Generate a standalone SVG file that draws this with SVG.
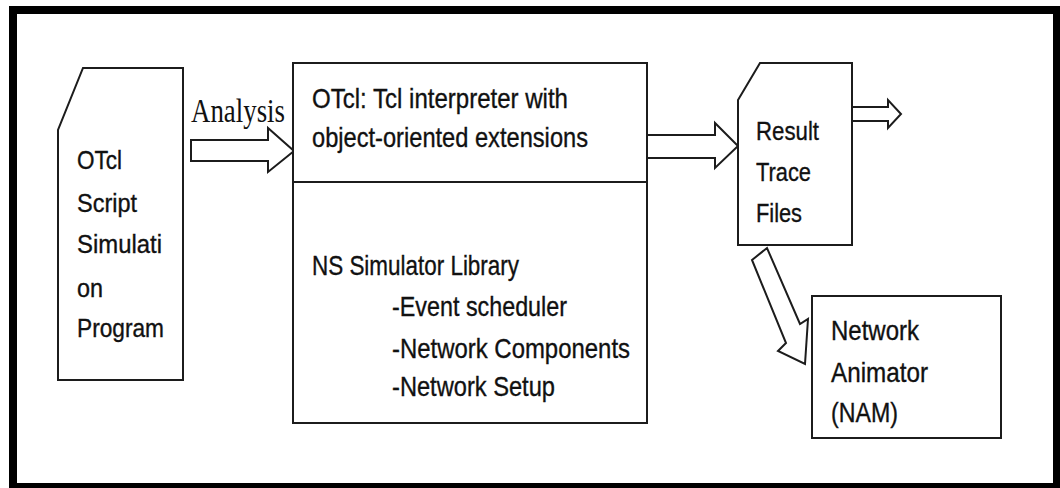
<svg xmlns="http://www.w3.org/2000/svg" width="1060" height="488" viewBox="0 0 1060 488">
  <style>
    .shape { fill: #ffffff; stroke: #1c1c1c; stroke-width: 2; stroke-linejoin: miter; }
    .arrow { fill: #ffffff; stroke: #1c1c1c; stroke-width: 2; stroke-linejoin: miter; }
    .lbl { font-family: "Liberation Sans", Arial, sans-serif; fill: #111111; stroke: #111111; stroke-width: 0.35; }
    .sm { font-size: 26px; }
    .md { font-size: 28px; }
    .serif { font-family: "Liberation Serif", "Times New Roman", serif; font-size: 33px; fill: #111111; }
  </style>

  <!-- page background and heavy frame -->
  <rect x="0" y="0" width="1060" height="488" fill="#ffffff"/>
  <rect id="frame" x="13" y="10" width="1044" height="477" fill="none" stroke="#000000" stroke-width="8"/>

  <!-- connectors: hollow block arrows -->
  <g id="connectors">
    <polygon class="arrow" points="191,140 268,140 268,128 294,151 268,172 268,161 191,161"/>
    <text class="serif" x="191" y="122" textLength="94" lengthAdjust="spacingAndGlyphs">Analysis</text>
    <polygon class="arrow" points="647,135 715,135 715,123 738,146 715,168 715,158 647,158"/>
    <polygon class="arrow" points="852,107 888,107 888,100 901,114 888,128 888,121 852,121"/>
    <polygon class="arrow" points="752,260 767,248 800,324 808,319 805,364 778,351 786,343"/>
  </g>

  <!-- script document -->
  <g id="otcl-script">
    <polygon class="shape" points="83,68 183,68 183,380 58,380 58,130"/>
    <text class="lbl sm" x="77" y="169" textLength="45" lengthAdjust="spacingAndGlyphs">OTcl</text>
    <text class="lbl sm" x="77" y="212" textLength="60" lengthAdjust="spacingAndGlyphs">Script</text>
    <text class="lbl sm" x="77" y="253" textLength="85" lengthAdjust="spacingAndGlyphs">Simulati</text>
    <text class="lbl sm" x="77" y="297" textLength="26" lengthAdjust="spacingAndGlyphs">on</text>
    <text class="lbl sm" x="77" y="337" textLength="87" lengthAdjust="spacingAndGlyphs">Program</text>
  </g>

  <!-- simulator: interpreter over library -->
  <g id="ns-simulator">
    <rect class="shape" x="293" y="63" width="354" height="360"/>
    <line x1="293" y1="182" x2="647" y2="182" stroke="#1c1c1c" stroke-width="2"/>
    <text class="lbl md" x="312" y="108" textLength="256" lengthAdjust="spacingAndGlyphs">OTcl: Tcl interpreter with</text>
    <text class="lbl md" x="312" y="147" textLength="276" lengthAdjust="spacingAndGlyphs">object-oriented extensions</text>
    <text class="lbl md" x="312" y="275" textLength="207" lengthAdjust="spacingAndGlyphs">NS Simulator Library</text>
    <text class="lbl md" x="392" y="316" textLength="175" lengthAdjust="spacingAndGlyphs">-Event scheduler</text>
    <text class="lbl md" x="392" y="358" textLength="238" lengthAdjust="spacingAndGlyphs">-Network Components</text>
    <text class="lbl md" x="392" y="396" textLength="163" lengthAdjust="spacingAndGlyphs">-Network Setup</text>
  </g>

  <!-- output trace document -->
  <g id="result-trace">
    <polygon class="shape" points="760,63 852,63 852,245 738,245 738,100"/>
    <text class="lbl sm" x="756" y="140" textLength="63" lengthAdjust="spacingAndGlyphs">Result</text>
    <text class="lbl sm" x="756" y="181" textLength="55" lengthAdjust="spacingAndGlyphs">Trace</text>
    <text class="lbl sm" x="756" y="222" textLength="46" lengthAdjust="spacingAndGlyphs">Files</text>
  </g>

  <!-- animator -->
  <g id="nam">
    <rect class="shape" x="812" y="296" width="189" height="142"/>
    <text class="lbl md" x="831" y="340" textLength="88" lengthAdjust="spacingAndGlyphs">Network</text>
    <text class="lbl md" x="831" y="382" textLength="97" lengthAdjust="spacingAndGlyphs">Animator</text>
    <text class="lbl md" x="831" y="422" textLength="67" lengthAdjust="spacingAndGlyphs">(NAM)</text>
  </g>
</svg>
